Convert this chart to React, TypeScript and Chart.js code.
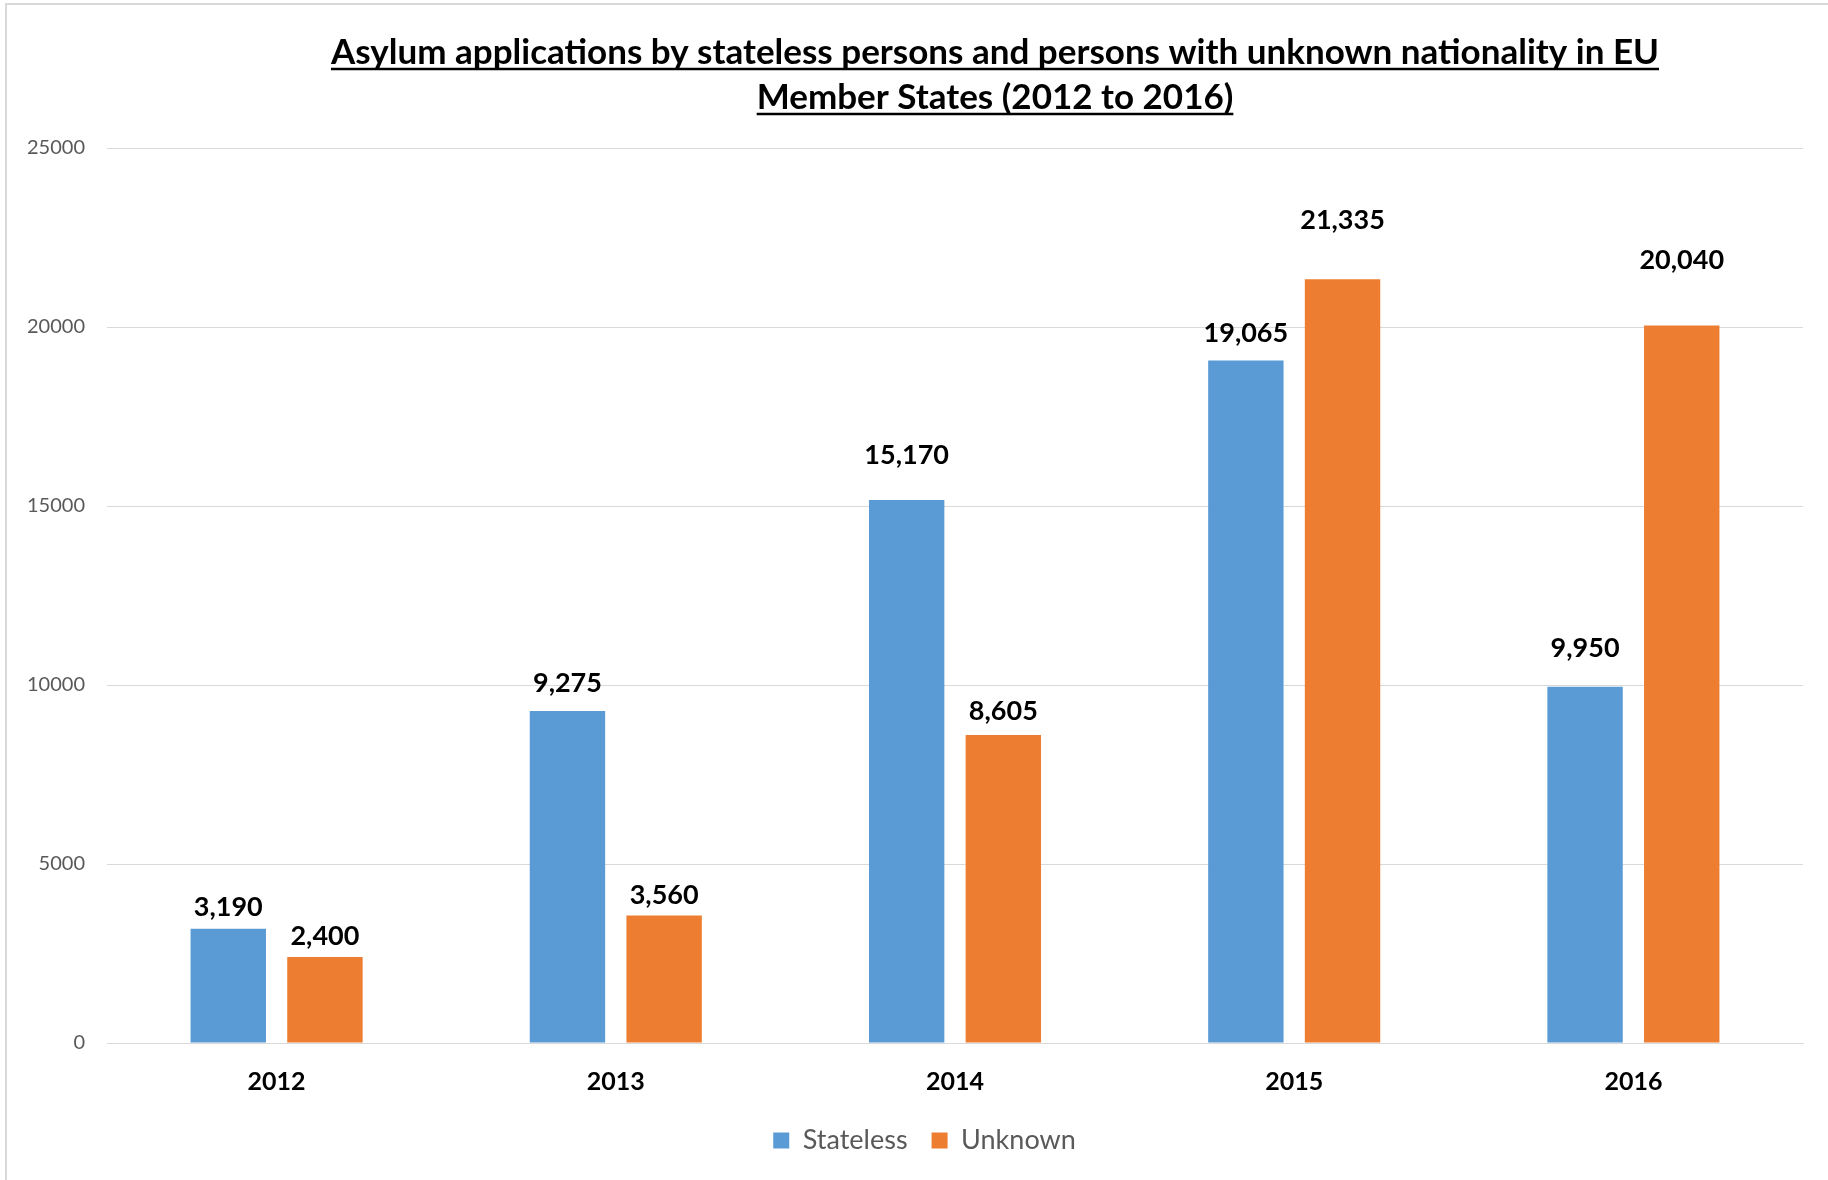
import React, { useEffect, useRef } from "react";
import { Chart, registerables } from "chart.js";

Chart.register(...registerables);

const categories = ["2012", "2013", "2014", "2015", "2016"];
const statelessValues = [3190, 9275, 15170, 19065, 9950];
const unknownValues = [2400, 3560, 8605, 21335, 20040];
const seriesNames = ["Stateless", "Unknown"];
const seriesColors = ["#5B9BD5", "#ED7D31"];
const titleLines = [
  "Asylum applications by stateless persons and persons with unknown nationality in EU",
  "Member States (2012 to 2016)",
];
const yMin = 0;
const yMax = 25000;
const yStep = 5000;
// vertical distance (px) between bar top and the centre of its value label, per series / category
const labelGapStateless = [22, 28, 45, 27, 38];
const labelGapUnknown = [21, 20, 24, 59, 65];

const FONT = "Lato, 'Open Sans', sans-serif";

const titlePlugin = {
  id: "underlinedTitle",
  afterDraw(chart: any) {
    const ctx = chart.ctx;
    ctx.save();
    ctx.font = `bold 35px ${FONT}`;
    ctx.fillStyle = "#000";
    ctx.strokeStyle = "#000";
    ctx.textAlign = "center";
    ctx.textBaseline = "alphabetic";
    const cx = 995;
    const baselines = [64, 109];
    titleLines.forEach((line, i) => {
      ctx.fillText(line, cx, baselines[i]);
      const w = ctx.measureText(line).width;
      ctx.lineWidth = 2.5;
      ctx.beginPath();
      ctx.moveTo(cx - w / 2, baselines[i] + 5);
      ctx.lineTo(cx + w / 2, baselines[i] + 5);
      ctx.stroke();
    });
    ctx.restore();
  },
};

const dataLabelPlugin = {
  id: "barValueLabels",
  afterDatasetsDraw(chart: any) {
    const ctx = chart.ctx;
    ctx.save();
    ctx.font = `bold 27px ${FONT}`;
    ctx.fillStyle = "#000";
    ctx.textAlign = "center";
    ctx.textBaseline = "middle";
    const gaps = [labelGapStateless, labelGapUnknown];
    chart.data.datasets.forEach((ds: any, di: number) => {
      const meta = chart.getDatasetMeta(di);
      meta.data.forEach((bar: any, i: number) => {
        const v = ds.data[i] as number;
        ctx.fillText(v.toLocaleString("en-US"), bar.x, bar.y - gaps[di][i]);
      });
    });
    ctx.restore();
  },
};

const legendShiftPlugin = {
  id: "legendShift",
  afterLayout(chart: any) {
    const lg = chart.legend;
    if (lg) {
      lg.left += 20;
      lg.right += 20;
    }
  },
};

export default function App() {
  const ref = useRef<HTMLCanvasElement | null>(null);

  useEffect(() => {
    document.body.style.margin = "0";
    const canvas = ref.current;
    if (!canvas) return;
    const chart = new Chart(canvas, {
      type: "bar",
      data: {
        labels: categories,
        datasets: [
          {
            label: seriesNames[0],
            data: statelessValues,
            backgroundColor: seriesColors[0],
            categoryPercentage: 0.57,
            barPercentage: 0.78,
          },
          {
            label: seriesNames[1],
            data: unknownValues,
            backgroundColor: seriesColors[1],
            categoryPercentage: 0.57,
            barPercentage: 0.78,
          },
        ],
      },
      options: {
        animation: false,
        responsive: false,
        maintainAspectRatio: false,
        devicePixelRatio: 1,
        layout: { padding: { top: 148, left: 6, right: 25, bottom: 16 } },
        plugins: {
          title: { display: false },
          tooltip: { enabled: false },
          legend: {
            position: "bottom",
            labels: {
              boxWidth: 16,
              boxHeight: 16,
              padding: 24,
              color: "#595959",
              font: { family: FONT, size: 27 },
            },
          },
        },
        scales: {
          x: {
            grid: { display: false },
            border: { display: true, color: "#d9d9d9", width: 1 },
            ticks: {
              color: "#000",
              font: { family: FONT, size: 25, weight: "bold" },
              padding: 16,
            },
            afterFit(scale: any) {
              scale.height = 60;
            },
          },
          y: {
            min: yMin,
            max: yMax,
            ticks: {
              stepSize: yStep,
              color: "#595959",
              font: { family: FONT, size: 20 },
              padding: 22,
              callback: (v: any) => String(v),
            },
            grid: { color: "#d9d9d9", drawTicks: false, lineWidth: 1 },
            border: { display: false },
            afterFit(scale: any) {
              scale.width = 101;
            },
          },
        },
      },
      plugins: [titlePlugin, dataLabelPlugin, legendShiftPlugin],
    });
    return () => chart.destroy();
  }, []);

  return (
    <div style={{ position: "relative", width: 1828, height: 1180, background: "#fff", overflow: "hidden" }}>
      <div
        style={{
          position: "absolute",
          left: 5,
          top: 3,
          width: 1900,
          height: 1300,
          borderLeft: "2px solid #d9d9d9",
          borderTop: "2px solid #d9d9d9",
        }}
      />
      <canvas ref={ref} width={1828} height={1180} style={{ position: "absolute", left: 0, top: 0 }} />
    </div>
  );
}
